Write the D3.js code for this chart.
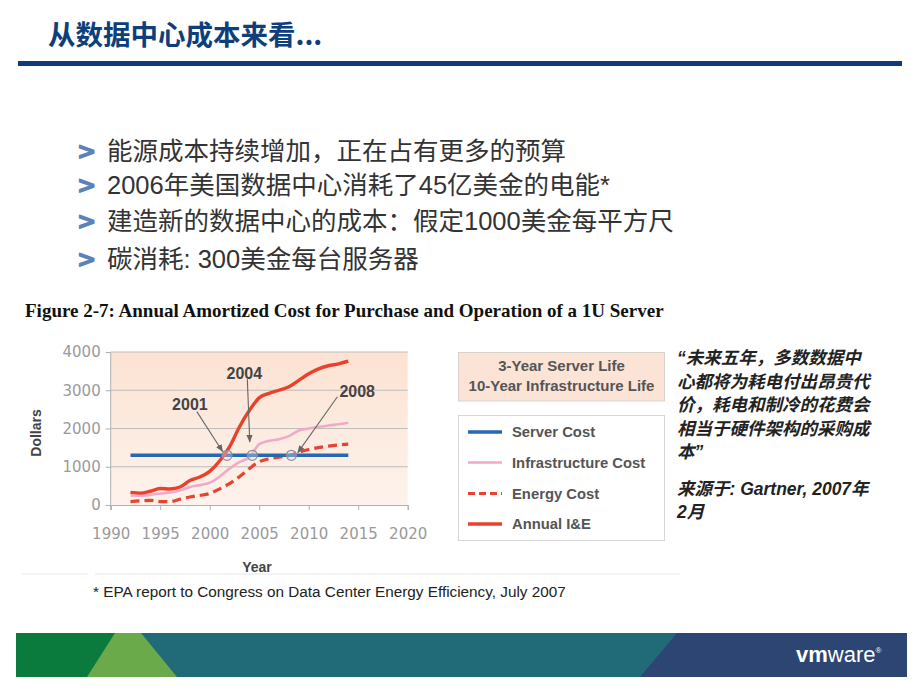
<!DOCTYPE html>
<html><head><meta charset="utf-8">
<script src="https://cdn.jsdelivr.net/npm/d3@7"></script>
<style>
html,body{margin:0;padding:0;background:#fff;}
svg{display:block;}
</style></head>
<body>
<svg id="c" width="920" height="690"></svg>
<script>
// ---------------- data ----------------
const years       = [1992,1993,1994,1995,1996,1997,1998,1999,2000,2001,2002,2003,2004,2005,2006,2007,2008,2009,2010,2011,2012,2013,2014];
const serverCost  = [1300,1300,1300,1300,1300,1300,1300,1300,1300,1300,1300,1300,1300,1300,1300,1300,1300,1300,1300,1300,1300,1300,1300];
const infraCost   = [250,240,270,300,330,380,470,520,580,740,950,1120,1250,1590,1680,1720,1800,1950,2000,2040,2080,2110,2150];
const energyCost  = [90,110,120,90,90,150,210,250,300,420,560,740,950,1130,1210,1250,1290,1380,1450,1500,1540,1570,1590];
const annualIE    = [330,310,360,430,420,470,640,730,880,1150,1520,2040,2470,2800,2920,3000,3090,3260,3430,3560,3640,3690,3760];
const xTicks = [1990,1995,2000,2005,2010,2015,2020];
const yTicks = [0,1000,2000,3000,4000];
const seriesNames = ["Server Cost","Infrastructure Cost","Energy Cost","Annual I&E"];
const crossYears  = [2001.75, 2004.3, 2008.25];
const crossValue  = 1300;
const annoLabels  = ["2001","2004","2008"];
const annoLabelAt = [[1998.0,2640],[2003.5,3440],[2014.9,2960]];
const annoFrom    = [[1998.7,2440],[2003.8,3290],[2012.9,2830]];
const annoTo      = [[2001.3,1400],[2004.05,1650],[2008.9,1370]];
const bullets = ["能源成本持续增加，正在占有更多的预算","2006年美国数据中心消耗了45亿美金的电能*","建造新的数据中心的成本：假定1000美金每平方尺","碳消耗: 300美金每台服务器"];
const quoteLines = ["“未来五年，多数数据中","心都将为耗电付出昂贵代","价，耗电和制冷的花费会","相当于硬件架构的采购成","本”","","来源于: Gartner, 2007年","2月"];

// ---------------- page ----------------
const svg = d3.select("#c");
const CJK = "'Liberation Sans','Noto Sans CJK SC',sans-serif";

// header
svg.append("text").attr("x",48).attr("y",45).text("从数据中心成本来看...")
  .attr("font-family","'Noto Sans CJK SC',sans-serif").attr("font-weight","bold")
  .attr("font-size",27.5).attr("fill","#0e3f7b");
svg.append("rect").attr("x",18).attr("y",61).attr("width",884).attr("height",5).attr("fill","#0d3c78");

// bullets
const by = [159.5,193.5,229.5,267.5];
bullets.forEach((b,i)=>{
  svg.append("text").attr("x",77).attr("y",by[i]-1).text(">")
    .attr("font-family","'DejaVu Sans',sans-serif").attr("font-weight","bold")
    .attr("font-size",23).attr("fill","#5c82b8")
    .attr("stroke","#5c82b8").attr("stroke-width",1.2).attr("stroke-linejoin","round");
  svg.append("text").attr("x",107).attr("y",by[i]).text(b)
    .attr("font-family",CJK).attr("font-size",25.5).attr("fill","#333");
});

// figure area bottom rule
svg.append("line").attr("x1",22).attr("x2",88).attr("y1",574).attr("y2",574).attr("stroke","#e6e6e6");
svg.append("line").attr("x1",95).attr("x2",680).attr("y1",574).attr("y2",574).attr("stroke","#e6e6e6");

svg.append("text").attr("x",25).attr("y",317)
  .text("Figure 2-7: Annual Amortized Cost for Purchase and Operation of a 1U Server")
  .attr("font-family","'Liberation Serif',serif").attr("font-weight","bold")
  .attr("font-size",19).attr("fill","#111");

// ---------------- chart ----------------
const x = d3.scaleLinear().domain([1990,2020]).range([110.7,407.7]);
const y = d3.scaleLinear().domain([0,4000]).range([505,352]);

const defs = svg.append("defs");
const grad = defs.append("linearGradient").attr("id","bg").attr("x1",0).attr("x2",0).attr("y1",0).attr("y2",1);
grad.append("stop").attr("offset","0%").attr("stop-color","#fce2d2");
grad.append("stop").attr("offset","100%").attr("stop-color","#fdf3ec");
defs.append("marker").attr("id","arr").attr("viewBox","0 0 10 10").attr("refX",9).attr("refY",5)
  .attr("markerWidth",7).attr("markerHeight",7).attr("orient","auto")
  .append("path").attr("d","M0,1 L10,5 L0,9 z").attr("fill","#666");

svg.append("rect").attr("x",x(1990)).attr("y",y(4000)).attr("width",x(2020)-x(1990)).attr("height",y(0)-y(4000)).attr("fill","url(#bg)");

// gridlines
svg.append("g").selectAll("line").data(yTicks.filter(d=>d>0)).join("line")
  .attr("x1",x(1990)).attr("x2",x(2020)).attr("y1",d=>y(d)).attr("y2",d=>y(d))
  .attr("stroke","#bdbdbd").attr("stroke-width",1);

// axes
const yAxis = svg.append("g").attr("transform",`translate(${x(1990)},0)`)
  .call(d3.axisLeft(y).tickValues(yTicks).tickSize(5).tickPadding(5).tickFormat(d3.format("d")));
const xAxis = svg.append("g").attr("transform",`translate(0,${y(0)})`)
  .call(d3.axisBottom(x).tickValues(xTicks).tickSize(5).tickPadding(18).tickFormat(d3.format("d")));
[yAxis,xAxis].forEach(g=>{
  g.select(".domain").attr("stroke","#b0b0b0");
  g.selectAll(".tick line").attr("stroke","#b0b0b0");
  g.selectAll("text").attr("font-family","'DejaVu Sans',sans-serif").attr("font-size",15).attr("fill","#9a9a9a");
});
yAxis.select(".domain").attr("d",`M0,${y(4000)}V${y(0)+5}`);

svg.append("text").attr("transform","translate(41,433) rotate(-90)").attr("text-anchor","middle")
  .text("Dollars").attr("font-family","'Liberation Sans',sans-serif").attr("font-weight","bold").attr("font-size",14).attr("fill","#444");
svg.append("text").attr("x",257).attr("y",572).attr("text-anchor","middle")
  .text("Year").attr("font-family","'Liberation Sans',sans-serif").attr("font-weight","bold").attr("font-size",14).attr("fill","#444");

// lines
const line = d3.line().x((d,i)=>x(years[i])).y(d=>y(d)).curve(d3.curveMonotoneX);
svg.append("path").attr("d",line(infraCost)).attr("fill","none").attr("stroke","#f2a9c9").attr("stroke-width",2.6);
svg.append("path").attr("d",line(energyCost)).attr("fill","none").attr("stroke","#e8432f").attr("stroke-width",3.2).attr("stroke-dasharray","9,5");
svg.append("path").attr("d",line(serverCost)).attr("fill","none").attr("stroke","#2768b2").attr("stroke-width",3.6);
svg.append("path").attr("d",line(annualIE)).attr("fill","none").attr("stroke","#e8412c").attr("stroke-width",3.4);

// crossover circles and annotations
svg.append("g").selectAll("circle").data(crossYears).join("circle")
  .attr("cx",d=>x(d)).attr("cy",y(crossValue)).attr("r",5)
  .attr("fill","rgba(230,225,235,0.35)").attr("stroke","#8f8f9a").attr("stroke-width",1.2);
annoLabels.forEach((t,i)=>{
  svg.append("line").attr("x1",x(annoFrom[i][0])).attr("y1",y(annoFrom[i][1]))
    .attr("x2",x(annoTo[i][0])).attr("y2",y(annoTo[i][1]))
    .attr("stroke","#666").attr("stroke-width",1.1).attr("marker-end","url(#arr)");
  svg.append("text").attr("x",x(annoLabelAt[i][0])).attr("y",y(annoLabelAt[i][1])+5.5)
    .attr("text-anchor","middle").text(t)
    .attr("font-family","'Liberation Sans',sans-serif").attr("font-weight","bold").attr("font-size",16).attr("fill","#444");
});

// legend boxes
const LF = "'Liberation Sans',sans-serif";
svg.append("rect").attr("x",458.5).attr("y",352.5).attr("width",206).attr("height",48.5)
  .attr("fill","#fbe4d5").attr("stroke","#d9d2cc");
svg.append("text").attr("x",561.5).attr("y",370.5).attr("text-anchor","middle").text("3-Year Server Life")
  .attr("font-family",LF).attr("font-weight","bold").attr("font-size",15).attr("fill","#555");
svg.append("text").attr("x",561.5).attr("y",390.5).attr("text-anchor","middle").text("10-Year Infrastructure Life")
  .attr("font-family",LF).attr("font-weight","bold").attr("font-size",15).attr("fill","#555");

svg.append("rect").attr("x",458.5).attr("y",415.5).attr("width",206).attr("height",125)
  .attr("fill","#fff").attr("stroke","#d6d6d6");
const legStyles = [
  {c:"#2768b2",w:3.6,d:null},
  {c:"#f2a9c9",w:2.6,d:null},
  {c:"#e8432f",w:3.2,d:"7,4"},
  {c:"#e8412c",w:3.4,d:null}];
const legY = [432,462.5,493.5,524];
seriesNames.forEach((n,i)=>{
  svg.append("line").attr("x1",468).attr("x2",502).attr("y1",legY[i]).attr("y2",legY[i])
    .attr("stroke",legStyles[i].c).attr("stroke-width",legStyles[i].w).attr("stroke-dasharray",legStyles[i].d);
  svg.append("text").attr("x",512).attr("y",legY[i]+5).text(n)
    .attr("font-family",LF).attr("font-weight","bold").attr("font-size",14.8).attr("fill","#555");
});

// quote
const qy = [364,387.5,411,434.5,457.5,0,495,518];
quoteLines.forEach((t,i)=>{
  if(!t) return;
  svg.append("text").attr("x",677).attr("y",qy[i]).text(t)
    .attr("font-family",CJK).attr("font-style","italic").attr("font-weight","bold")
    .attr("font-size",17.5).attr("fill","#222");
});

// footnote
svg.append("text").attr("x",93).attr("y",597).text("* EPA report to Congress on Data Center Energy Efficiency, July 2007")
  .attr("font-family",LF).attr("font-size",15.3).attr("fill","#222");

// footer band
const fy0 = 633, fy1 = 677;
svg.append("rect").attr("x",16).attr("y",fy0).attr("width",891).attr("height",fy1-fy0).attr("fill","#2c4572");
svg.append("path").attr("d",`M16,${fy0}H677L640,${fy1}H16Z`).attr("fill","#216a78");
svg.append("path").attr("d",`M16,${fy0}H141L177,${fy1}H16Z`).attr("fill","#6aaa4b");
svg.append("path").attr("d",`M16,${fy0}H115L87,${fy1}H16Z`).attr("fill","#0b7b3d");
const vm = svg.append("text").attr("x",796).attr("y",662).attr("font-family",LF).attr("font-size",22).attr("fill","#fff");
vm.append("tspan").text("vm").attr("font-weight","bold");
vm.append("tspan").text("ware");
vm.append("tspan").text("®").attr("font-size",8).attr("dy",-9);
</script>
</body></html>
